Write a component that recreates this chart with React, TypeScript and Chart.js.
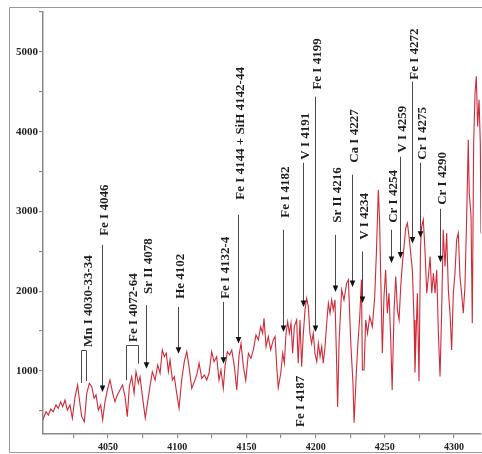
import React, { useEffect, useRef } from "react";
import { Chart, registerables } from "chart.js";

Chart.register(...registerables);

// Spectrum: wavelength (Å) and flux
const wavelength = [
  4002.8, 4005.2, 4006.9, 4008.6, 4010.4, 4012.4, 4014.0, 4015.8, 4017.2, 4018.9,
  4020.6, 4022.5, 4024.2, 4026.2, 4028.0, 4029.8, 4031.0, 4032.9, 4034.6, 4036.5,
  4038.2, 4039.9, 4041.3, 4043.0, 4044.7, 4046.1, 4047.8, 4049.8, 4051.4, 4053.4,
  4055.0, 4056.7, 4058.6, 4060.5, 4062.3, 4063.9, 4065.4, 4067.1, 4068.8, 4070.2,
  4071.9, 4073.1, 4075.5, 4076.9, 4080.3, 4082.0, 4084.0, 4085.9, 4087.6, 4089.2,
  4090.7, 4092.1, 4093.6, 4094.8, 4096.5, 4097.9, 4099.6, 4101.3, 4103.2, 4105.1,
  4106.9, 4108.5, 4110.5, 4112.4, 4114.1, 4115.8, 4117.7, 4119.6, 4121.3, 4123.0,
  4124.9, 4126.6, 4128.5, 4130.2, 4131.6, 4133.3, 4134.5, 4136.2, 4137.9, 4139.4,
  4141.3, 4143.0, 4144.7, 4146.1, 4147.8, 4149.5, 4151.4, 4153.3, 4155.0, 4156.9,
  4158.6, 4160.3, 4161.7, 4162.7, 4164.2, 4165.8, 4167.5, 4169.4, 4170.7, 4171.9,
  4173.0, 4174.8, 4176.2, 4177.4, 4178.6, 4179.8, 4181.0, 4182.2, 4183.4, 4184.6,
  4186.3, 4187.4, 4188.7, 4189.9, 4191.0, 4192.3, 4193.5, 4194.7, 4195.9, 4197.1,
  4198.3, 4199.5, 4200.8, 4202.0, 4203.2, 4204.4, 4205.5, 4206.8, 4208.0, 4209.2,
  4210.4, 4211.6, 4212.8, 4214.0, 4215.0, 4215.9, 4217.0, 4218.8, 4220.5, 4222.4,
  4223.7, 4225.4, 4227.0, 4227.8, 4229.5, 4230.7, 4231.9, 4233.1, 4233.8, 4235.0,
  4236.2, 4237.5, 4239.1, 4241.0, 4242.7, 4243.9, 4245.3, 4246.2, 4247.2, 4248.2,
  4249.4, 4250.6, 4251.8, 4253.0, 4254.2, 4255.3, 4256.7, 4257.9, 4259.1, 4260.3,
  4261.5, 4262.7, 4263.9, 4265.1, 4266.3, 4267.5, 4268.7, 4269.9, 4271.1, 4271.8,
  4273.5, 4274.7, 4275.8, 4276.6, 4277.8, 4279.0, 4280.3, 4281.5, 4282.7, 4283.9,
  4285.1, 4286.3, 4287.5, 4288.7, 4289.9, 4291.1, 4292.2, 4293.5, 4294.7, 4295.9,
  4297.1, 4298.3, 4299.5, 4300.7, 4301.9, 4303.1, 4304.3, 4305.5, 4306.7, 4307.9,
  4309.1, 4310.3, 4311.0, 4312.3, 4313.2, 4314.2, 4315.2, 4316.1, 4317.1, 4318.1,
  4319.0, 4319.5,
];
const flux = [
  385, 489, 448, 523, 489, 573, 531, 615, 552, 636,
  510, 573, 406, 678, 824, 573, 427, 364, 720, 845,
  803, 657, 699, 510, 573, 385, 615, 783, 887, 720,
  615, 699, 761, 824, 678, 427, 803, 928, 720, 991,
  845, 928, 594, 410, 803, 991, 887, 1075, 971, 1264,
  1180, 1222, 991, 1138, 887, 928, 720, 532, 887, 1117,
  1243, 1054, 783, 866, 950, 1097, 908, 950, 887, 971,
  1243, 1117, 1180, 887, 1013, 783, 1054, 1243, 1201, 1264,
  1054, 761, 1201, 1347, 1054, 880, 1222, 1159, 1264, 1452,
  1389, 1556, 1473, 1661, 1305, 1431, 1264, 1389, 1431, 1054,
  790, 971, 1222, 1097, 1473, 1619, 1473, 1598, 1222, 1556,
  1640, 1097, 1640, 1054, 1431, 1765, 1912, 1807, 1473, 1347,
  1473, 1222, 1117, 1347, 1180, 1305, 1097, 1305, 1598, 1849,
  1724, 1891, 1765, 1891, 1222, 550, 1389, 2017, 1891, 2101,
  2142, 1347, 845, 350, 1013, 1389, 1682, 2142, 1013, 1013,
  1640, 1473, 1682, 1556, 1933, 2477, 3272, 2895, 2058, 1222,
  1933, 2268, 1724, 1975, 1431, 761, 1765, 2184, 1765, 1640,
  2058, 2352, 2560, 2791, 2854, 2686, 2477, 2268, 1640, 980,
  1975, 870, 2560, 2811, 2895, 2519, 1975, 2184, 2435, 1975,
  2226, 1975, 2268, 1473, 930, 1765, 2770, 2310, 2728, 2017,
  1724, 1264, 1975, 2226, 2644, 2728, 2184, 1975, 1724, 2058,
  2895, 3899, 3230, 2937, 1598, 3857, 4485, 4694, 4066, 4401,
  3857, 2728,
];

// Axis ticks
const xTicks = [4025, 4050, 4075, 4100, 4125, 4150, 4175, 4200, 4225, 4250, 4275, 4300];
const xLabelled = [4050, 4100, 4150, 4200, 4250, 4300];
const yTicks = [500, 1000, 1500, 2000, 2500, 3000, 3500, 4000, 4500, 5000, 5500];
const yLabelled = [1000, 2000, 3000, 4000, 5000];

// Arrow annotations (wavelength of arrow, flux at tip, flux at line top, flux at text base)
const annotLabels = [
  "Fe I 4046", "Sr II 4078", "He 4102", "Fe I 4132-4", "Fe I 4144 + SiH 4142-44",
  "Fe I 4182", "V I 4191", "Fe I 4199", "Sr II 4216", "Ca I 4227", "V I 4234",
  "Cr I 4254", "V I 4259", "Fe I 4272", "Cr I 4275", "Cr I 4290",
];
const annotWave = [4045.4, 4077.2, 4100.8, 4132.9, 4144.2, 4176.2, 4191.1, 4199.6, 4214.3, 4226.1, 4233.8, 4254.7, 4260.8, 4269.4, 4275.2, 4289.9];
const annotTip = [736, 1029, 1217, 1092, 1343, 1489, 1803, 1489, 1991, 2054, 1853, 2355, 2409, 2598, 2669, 2362];
const annotTop = [2581, 1825, 1803, 1866, 2958, 2770, 3610, 4439, 2707, 3460, 2497, 2770, 3686, 4627, 3610, 3033];
const annotText = [2694, 1966, 1904, 1904, 3146, 2920, 3648, 4527, 2857, 3610, 2644, 2857, 3736, 4652, 3648, 3083];

// Bracket annotations
const bracketLabels = ["Mn I 4030-33-34", "Fe I 4072-64"];
const bracketFrom = [4030.2, 4063.0];
const bracketTo = [4034.0, 4071.7];
const bracketTop = [1264, 1322];
const bracketFromBottom = [849, 883];
const bracketToBottom = [875, 1092];
const bracketTextWave = [4035.2, 4067.6];
const bracketTextBase = [1301, 1364];

// Text-only note
const noteLabels = ["Fe I 4187"];
const noteWave = [4188.7];
const noteBase = [297];

const LABEL_FONT = "bold 13px 'Liberation Serif', 'Times New Roman', serif";

function drawVText(ctx: CanvasRenderingContext2D, text: string, cx: number, by: number) {
  ctx.save();
  ctx.translate(cx + 4.3, by);
  ctx.rotate(-Math.PI / 2);
  ctx.textAlign = "left";
  ctx.textBaseline = "alphabetic";
  ctx.fillText(text, 0, 0);
  ctx.restore();
}

const framePlugin = {
  id: "frame",
  beforeDraw(chart: any) {
    const ctx = chart.ctx as CanvasRenderingContext2D;
    ctx.save();
    ctx.fillStyle = "#ffffff";
    ctx.fillRect(0, 0, chart.width, chart.height);
    ctx.strokeStyle = "#9a9a9a";
    ctx.lineWidth = 1;
    ctx.beginPath();
    ctx.moveTo(chart.width, 7.5);
    ctx.lineTo(9.5, 7.5);
    ctx.lineTo(9.5, 452.5);
    ctx.lineTo(chart.width, 452.5);
    ctx.stroke();
    ctx.restore();
  },
};

const annotationPlugin = {
  id: "lineAnnotations",
  afterDatasetsDraw(chart: any) {
    const ctx = chart.ctx as CanvasRenderingContext2D;
    const xs = chart.scales.x;
    const ys = chart.scales.y;
    ctx.save();
    ctx.font = LABEL_FONT;
    ctx.fillStyle = "#1e1e1e";

    for (let i = 0; i < annotLabels.length; i++) {
      const x = Math.round(xs.getPixelForValue(annotWave[i])) + 0.5;
      const tip = ys.getPixelForValue(annotTip[i]);
      const top = ys.getPixelForValue(annotTop[i]);
      ctx.strokeStyle = "#4a4a4a";
      ctx.lineWidth = 1;
      ctx.beginPath();
      ctx.moveTo(x, top);
      ctx.lineTo(x, tip - 5);
      ctx.stroke();
      ctx.fillStyle = "#111111";
      ctx.beginPath();
      ctx.moveTo(x - 2.8, tip - 6.5);
      ctx.lineTo(x + 2.8, tip - 6.5);
      ctx.lineTo(x, tip);
      ctx.closePath();
      ctx.fill();
      ctx.fillStyle = "#1e1e1e";
      drawVText(ctx, annotLabels[i], x + 1, ys.getPixelForValue(annotText[i]));
    }

    for (let i = 0; i < bracketLabels.length; i++) {
      const x1 = Math.round(xs.getPixelForValue(bracketFrom[i])) + 0.5;
      const x2 = Math.round(xs.getPixelForValue(bracketTo[i])) + 0.5;
      const top = Math.round(ys.getPixelForValue(bracketTop[i])) + 0.5;
      ctx.strokeStyle = "#4a4a4a";
      ctx.lineWidth = 1;
      ctx.beginPath();
      ctx.moveTo(x1, ys.getPixelForValue(bracketFromBottom[i]));
      ctx.lineTo(x1, top);
      ctx.lineTo(x2, top);
      ctx.lineTo(x2, ys.getPixelForValue(bracketToBottom[i]));
      ctx.stroke();
      drawVText(ctx, bracketLabels[i], xs.getPixelForValue(bracketTextWave[i]), ys.getPixelForValue(bracketTextBase[i]));
    }

    for (let i = 0; i < noteLabels.length; i++) {
      drawVText(ctx, noteLabels[i], xs.getPixelForValue(noteWave[i]), ys.getPixelForValue(noteBase[i]));
    }
    ctx.restore();
  },
};

export default function App() {
  const canvasRef = useRef<HTMLCanvasElement | null>(null);

  useEffect(() => {
    if (!canvasRef.current) return;
    const points = wavelength.map((w, i) => ({ x: w, y: flux[i] }));
    const chart = new Chart(canvasRef.current, {
      type: "line",
      data: {
        datasets: [
          {
            data: points,
            borderColor: "#cf2a38",
            borderWidth: 1.1,
            pointRadius: 0,
            tension: 0,
            fill: false,
          },
        ],
      },
      options: {
        animation: false,
        responsive: false,
        devicePixelRatio: 1,
        layout: { padding: { left: 0, right: 1, top: 12, bottom: 0 } },
        plugins: { legend: { display: false }, tooltip: { enabled: false } },
        scales: {
          x: {
            type: "linear",
            min: 4003,
            max: 4319.5,
            afterBuildTicks: (s: any) => {
              s.ticks = xTicks.map((v) => ({ value: v }));
            },
            afterFit: (s: any) => {
              s.height = 20;
            },
            border: { color: "#8a8a8a", width: 1.5 },
            grid: { drawOnChartArea: false, drawTicks: true, tickLength: 4, color: "#8a8a8a", lineWidth: 1.2 },
            ticks: {
              autoSkip: false,
              maxRotation: 0,
              padding: 3,
              color: "#222",
              font: { family: "'Liberation Serif', serif", size: 10, weight: "bold" },
              callback: (v: any) => (xLabelled.includes(Number(v)) ? String(v) : ""),
            },
          },
          y: {
            type: "linear",
            min: 210,
            max: 5500,
            afterBuildTicks: (s: any) => {
              s.ticks = yTicks.map((v) => ({ value: v }));
            },
            afterFit: (s: any) => {
              s.width = 43;
            },
            border: { color: "#8a8a8a", width: 1.5 },
            grid: { drawOnChartArea: false, drawTicks: true, tickLength: 4, color: "#8a8a8a", lineWidth: 1.2 },
            ticks: {
              autoSkip: false,
              padding: 1,
              color: "#222",
              font: { family: "'Liberation Serif', serif", size: 11, weight: "bold" },
              callback: (v: any) => (yLabelled.includes(Number(v)) ? String(v) : ""),
            },
          },
        },
      },
      plugins: [framePlugin, annotationPlugin],
    } as any);
    return () => chart.destroy();
  }, []);

  return (
    <div style={{ position: "absolute", left: 0, top: 0, width: 482, height: 454, background: "#fff" }}>
      <canvas ref={canvasRef} width={482} height={454} style={{ width: 482, height: 454, display: "block" }} />
    </div>
  );
}
